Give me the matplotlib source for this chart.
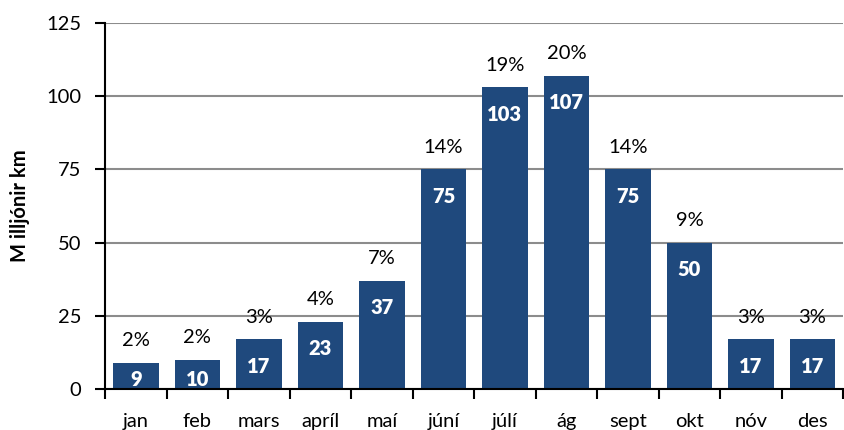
import matplotlib
matplotlib.use('Agg')
import matplotlib.pyplot as plt
import numpy as np

plt.rcParams['font.family'] = ['Lato', 'DejaVu Sans']

months = ['jan', 'feb', 'mars', 'apríl', 'maí', 'júní', 'júlí', 'ág', 'sept', 'okt', 'nóv', 'des']
values = [9, 10, 17, 23, 37, 75, 103, 107, 75, 50, 17, 17]
shares = [2, 2, 3, 4, 7, 14, 19, 20, 14, 9, 3, 3]
yticks = [0, 25, 50, 75, 100, 125]

bar_color = '#1f497d'
fs = 14.5

fig = plt.figure(figsize=(8.45, 4.3), dpi=100)
ax = fig.add_axes([105 / 845, 1 - 389 / 430, 1 - 105 / 845 - 0.002, (389 - 23) / 430])

x = np.arange(len(months))
ax.bar(x, values, width=0.74, color=bar_color, zorder=3)

ax.set_ylim(0, 125)
ax.set_xlim(-0.5, len(months) - 0.5)
ax.set_yticks(yticks)
ax.set_yticklabels([str(t) for t in yticks], fontsize=fs)
ax.yaxis.grid(True, color='#8c8c8c', linewidth=1.5, zorder=0)

# category labels centred, tick marks between categories
ax.set_xticks(x)
ax.set_xticklabels(months, fontsize=fs)
ax.tick_params(axis='x', length=0, pad=17)
ax.set_xticks(np.arange(-0.5, len(months)), minor=True)
ax.tick_params(axis='x', which='minor', length=7, width=1.5, direction='out', color='black')
ax.tick_params(axis='y', length=7, width=1.5, direction='out', pad=10)

for side in ['top', 'right']:
    ax.spines[side].set_visible(False)
for side in ['left', 'bottom']:
    ax.spines[side].set_linewidth(1.5)
    ax.spines[side].set_zorder(4)

for i, (v, s) in enumerate(zip(values, shares)):
    ax.text(i, max(v - 9.2, 3.3), str(v), ha='center', va='center', color='white',
            fontsize=fs, fontweight='heavy', zorder=5)
    ax.text(i, v + 7.5, f'{s}%', ha='center', va='center', color='black', fontsize=fs, zorder=5)

ax.set_ylabel('M illjónir km', fontsize=fs, fontweight='bold', labelpad=12)

fig.savefig('out.png', dpi=100)
